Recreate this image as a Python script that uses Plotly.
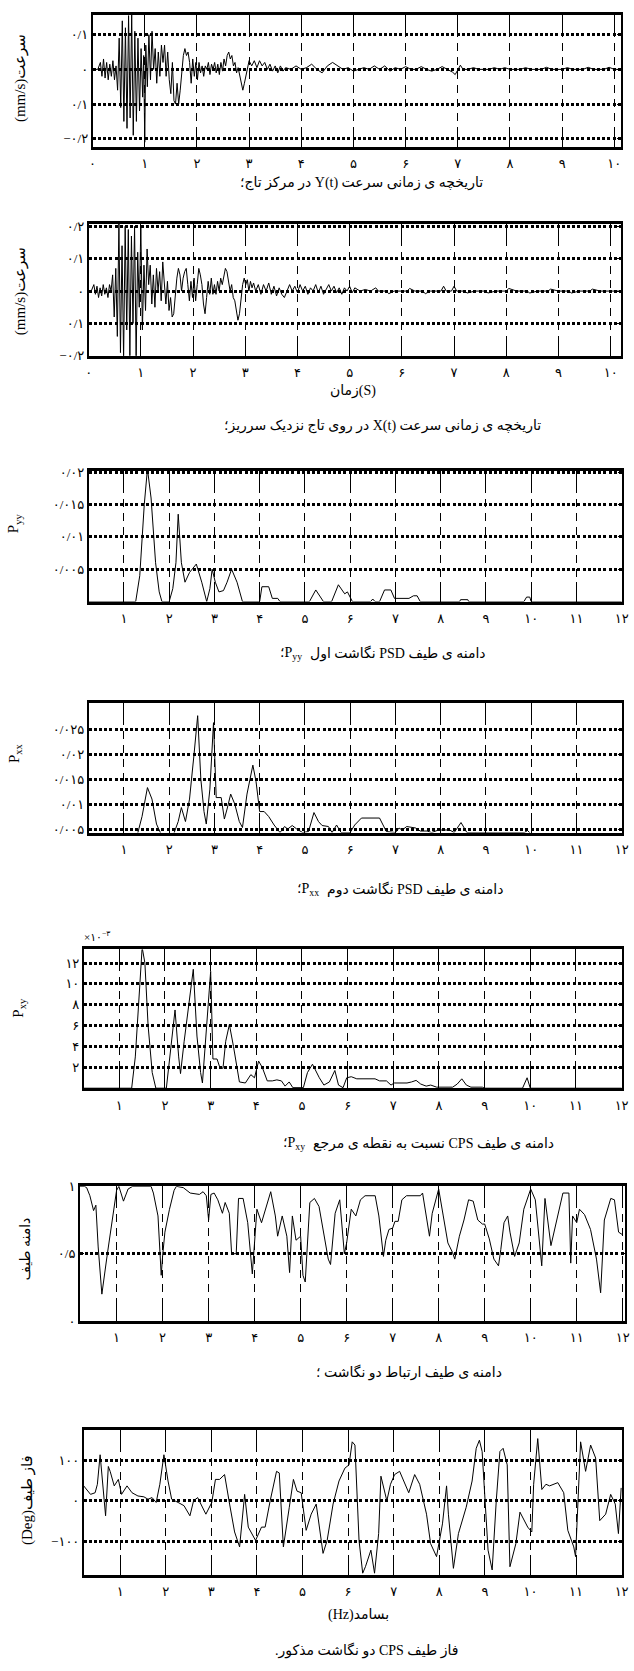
import plotly.graph_objects as go

# ---------------------------------------------------------------- data
# velocity time history Y(t) at crest centre  (time s, velocity mm/s)
vel_y_pts = [
    (0.00, 0.0), (0.05, 0.0), (0.10, 0.0), (0.15, 0.02), (0.18, -0.02), (0.21, 0.03),
    (0.24, -0.025), (0.27, 0.02), (0.30, -0.03), (0.33, 0.015), (0.36, -0.02), (0.39, 0.025),
    (0.42, -0.03), (0.45, 0.01), (0.48, -0.06), (0.51, 0.09), (0.54, -0.11), (0.57, 0.14),
    (0.60, -0.15), (0.63, 0.12), (0.66, -0.17), (0.69, 0.155), (0.72, -0.14), (0.75, 0.16),
    (0.78, -0.19), (0.81, 0.11), (0.84, -0.15), (0.87, 0.09), (0.90, -0.12), (0.93, 0.06),
    (0.96, -0.08), (0.98, 0.04), (1.00, -0.21), (1.02, 0.07), (1.05, -0.05), (1.08, 0.10),
    (1.11, -0.03), (1.14, 0.11), (1.17, 0.0), (1.20, 0.06), (1.23, -0.04), (1.26, 0.05),
    (1.29, -0.02), (1.32, 0.07), (1.35, 0.02), (1.38, 0.07), (1.41, -0.02), (1.44, 0.05),
    (1.47, -0.03), (1.50, -0.07), (1.53, 0.02), (1.56, -0.09), (1.59, -0.10), (1.62, -0.04),
    (1.65, -0.10), (1.68, -0.06), (1.71, 0.0), (1.74, 0.04), (1.77, 0.06), (1.80, 0.04),
    (1.83, 0.05), (1.86, 0.02), (1.89, -0.04), (1.92, 0.03), (1.95, -0.02), (1.98, 0.02),
    (2.01, -0.03), (2.04, 0.02), (2.07, -0.01), (2.10, 0.01), (2.13, -0.02), (2.16, 0.01),
    (2.19, 0.0), (2.22, 0.02), (2.25, -0.015), (2.28, 0.015), (2.31, 0.0), (2.34, 0.02),
    (2.37, -0.01), (2.40, 0.015), (2.43, -0.015), (2.46, 0.02), (2.49, -0.005), (2.52, 0.03),
    (2.55, 0.01), (2.58, 0.04), (2.61, 0.05), (2.64, 0.03), (2.67, 0.04), (2.70, 0.01),
    (2.73, 0.02), (2.76, -0.01), (2.79, 0.005), (2.82, -0.02), (2.85, -0.04), (2.88, -0.06),
    (2.91, -0.04), (2.94, -0.02), (2.97, 0.01), (3.00, 0.025), (3.05, 0.01), (3.10, 0.025),
    (3.15, 0.005), (3.20, 0.025), (3.25, 0.01), (3.30, 0.02), (3.35, 0.0), (3.40, 0.015),
    (3.45, -0.005), (3.50, 0.01), (3.55, -0.01), (3.60, 0.01), (3.65, -0.005), (3.70, 0.005),
    (3.80, 0.0), (3.90, 0.01), (4.00, 0.0), (4.10, 0.005), (4.20, 0.015), (4.30, 0.0),
    (4.40, -0.01), (4.50, 0.01), (4.60, 0.02), (4.70, 0.01), (4.80, 0.0), (4.90, 0.005),
    (5.00, -0.005), (5.10, 0.0), (5.20, 0.005), (5.30, 0.0), (5.40, 0.01), (5.50, 0.0),
    (5.60, 0.01), (5.70, -0.005), (5.80, 0.005), (5.90, 0.0), (6.00, 0.008), (6.10, 0.0),
    (6.20, 0.0), (6.30, 0.008), (6.40, 0.0), (6.50, -0.005), (6.60, 0.0), (6.70, 0.008),
    (6.80, 0.0), (6.90, -0.008), (6.95, -0.015), (7.00, 0.0), (7.05, 0.012), (7.10, 0.0),
    (7.20, 0.0), (7.30, 0.005), (7.40, 0.0), (7.60, 0.0), (7.70, 0.005), (7.80, 0.0),
    (7.90, 0.005), (8.00, 0.0), (8.20, 0.0), (8.30, 0.005), (8.40, 0.0), (8.60, 0.0),
    (8.70, 0.006), (8.80, 0.0), (9.00, 0.0), (9.10, 0.005), (9.20, 0.0), (9.40, 0.0),
    (9.50, 0.006), (9.60, 0.0), (9.80, 0.0), (9.90, 0.006), (10.00, 0.0), (10.13, 0.0),
]

# velocity time history X(t) on crest near spillway  (time s, velocity mm/s)
vel_x_pts = [
    (0.00, 0.0), (0.05, 0.0), (0.10, 0.02), (0.13, -0.01), (0.16, 0.015), (0.19, -0.02),
    (0.22, 0.01), (0.25, -0.015), (0.28, 0.02), (0.31, -0.01), (0.34, 0.01), (0.37, -0.02),
    (0.40, 0.02), (0.43, 0.0), (0.46, 0.05), (0.49, -0.08), (0.52, 0.07), (0.55, -0.14),
    (0.58, 0.21), (0.61, -0.19), (0.64, 0.14), (0.67, -0.21), (0.70, 0.2), (0.73, -0.12),
    (0.76, 0.19), (0.79, -0.2), (0.82, 0.17), (0.85, -0.1), (0.88, 0.2), (0.91, -0.21),
    (0.94, 0.12), (0.97, -0.05), (1.00, 0.2), (1.03, -0.12), (1.06, 0.08), (1.09, -0.06),
    (1.12, 0.13), (1.15, 0.02), (1.18, 0.08), (1.21, -0.04), (1.24, 0.05), (1.27, -0.05),
    (1.30, 0.07), (1.33, 0.0), (1.36, 0.06), (1.39, -0.03), (1.42, 0.09), (1.45, 0.01),
    (1.48, -0.04), (1.51, 0.03), (1.54, -0.06), (1.57, -0.02), (1.60, -0.08), (1.63, -0.07),
    (1.66, 0.0), (1.69, 0.04), (1.72, 0.07), (1.75, 0.05), (1.78, 0.0), (1.81, 0.04),
    (1.84, 0.06), (1.87, 0.07), (1.90, 0.02), (1.93, -0.03), (1.96, 0.03), (1.99, -0.02),
    (2.02, 0.04), (2.05, -0.03), (2.08, 0.02), (2.11, 0.07), (2.14, 0.05), (2.17, 0.02),
    (2.20, -0.04), (2.23, -0.07), (2.26, -0.02), (2.29, 0.03), (2.32, -0.01), (2.35, 0.04),
    (2.38, -0.01), (2.41, 0.02), (2.44, -0.01), (2.47, 0.03), (2.50, 0.0), (2.53, 0.04),
    (2.56, 0.02), (2.59, 0.05), (2.62, 0.07), (2.65, 0.06), (2.68, 0.03), (2.71, 0.0),
    (2.74, 0.02), (2.77, -0.02), (2.80, -0.03), (2.83, -0.06), (2.86, -0.09), (2.89, -0.07),
    (2.92, -0.02), (2.95, 0.02), (2.98, 0.04), (3.01, 0.02), (3.04, 0.035), (3.07, 0.0),
    (3.10, 0.03), (3.13, 0.01), (3.16, 0.025), (3.20, 0.0), (3.25, 0.02), (3.30, -0.01),
    (3.35, 0.02), (3.40, 0.0), (3.45, 0.025), (3.50, -0.01), (3.55, 0.015), (3.60, -0.015),
    (3.65, 0.01), (3.70, -0.01), (3.75, -0.02), (3.80, 0.0), (3.85, 0.02), (3.90, 0.0),
    (3.95, 0.015), (4.00, -0.005), (4.05, 0.02), (4.10, 0.0), (4.15, 0.015), (4.20, -0.01),
    (4.25, 0.01), (4.30, 0.0), (4.35, 0.02), (4.40, -0.005), (4.45, 0.015), (4.50, -0.01),
    (4.55, 0.005), (4.60, 0.02), (4.65, 0.0), (4.70, 0.015), (4.75, -0.005), (4.80, 0.01),
    (4.85, -0.01), (4.90, 0.01), (4.95, 0.0), (5.00, 0.015), (5.05, -0.005), (5.10, 0.01),
    (5.20, 0.0), (5.30, 0.005), (5.40, 0.0), (5.50, 0.01), (5.55, 0.0), (5.70, 0.0),
    (5.75, -0.008), (5.85, 0.0), (6.10, 0.0), (6.15, 0.008), (6.25, 0.0), (6.40, 0.0),
    (6.45, -0.008), (6.55, 0.0), (6.75, 0.0), (6.80, 0.015), (6.85, 0.0), (6.95, 0.0),
    (7.00, 0.015), (7.05, 0.0), (7.20, 0.0), (7.25, -0.006), (7.40, 0.0), (7.60, 0.0),
    (7.65, -0.006), (7.80, 0.0), (8.00, 0.0), (8.05, 0.008), (8.20, 0.0), (8.40, 0.0),
    (8.45, -0.006), (8.60, 0.0), (8.80, 0.0), (8.85, 0.006), (9.00, 0.0), (9.20, 0.0),
    (9.25, -0.006), (9.40, 0.0), (9.60, 0.0), (9.65, 0.006), (9.80, 0.0), (10.20, 0.0),
]

# PSD of record 1, Pyy  (Hz, value)
psd_yy_pts = [
    (0.2, 0), (1.2, 0), (1.26, 0), (1.35, 0.004), (1.45, 0.015), (1.52, 0.0205), (1.6, 0.016),
    (1.7, 0.006), (1.78, 0.0015), (1.84, 0), (2.0, 0), (2.08, 0.002), (2.15, 0.006), (2.2, 0.0135),
    (2.27, 0.006), (2.35, 0.003), (2.45, 0.0045), (2.6, 0.0058), (2.72, 0.003), (2.83, 0),
    (2.9, 0.002), (2.95, 0.005), (3.02, 0.003), (3.1, 0.0015), (3.2, 0.0017), (3.28, 0.003),
    (3.38, 0.005), (3.5, 0.003), (3.62, 0), (4.0, 0), (4.05, 0.0023), (4.2, 0.0023),
    (4.28, 0.0005), (4.4, 0.0005), (4.45, 0), (5.1, 0), (5.24, 0.0018), (5.41, 0), (5.59, 0),
    (5.74, 0.0026), (5.88, 0.0012), (5.94, 0.0015), (6.0, 0.0006), (6.05, 0), (6.45, 0),
    (6.5, 0.0004), (6.55, 0), (6.65, 0), (6.76, 0.0018), (6.9, 0.0018), (6.98, 0.0005),
    (7.3, 0.0005), (7.4, 0.0009), (7.48, 0.0009), (7.55, 0), (8.42, 0), (8.44, 0.0003),
    (8.6, 0.0003), (8.62, 0), (9.84, 0), (9.9, 0.0007), (9.97, 0.0007), (10.0, 0), (12.0, 0),
]

# PSD of record 2, Pxx  (Hz, value)
psd_xx_pts = [
    (0.2, 0.004), (1.3, 0.004), (1.4, 0.0075), (1.52, 0.0133), (1.62, 0.011), (1.72, 0.006),
    (1.82, 0.004), (2.1, 0.004), (2.2, 0.0065), (2.27, 0.0093), (2.36, 0.0065), (2.45, 0.011),
    (2.55, 0.02), (2.63, 0.0277), (2.7, 0.015), (2.77, 0.0085), (2.82, 0.006), (2.9, 0.013),
    (2.98, 0.0263), (3.04, 0.0113), (3.15, 0.0113), (3.22, 0.007), (3.28, 0.009), (3.36, 0.012),
    (3.45, 0.01), (3.55, 0.0065), (3.62, 0.0053), (3.72, 0.012), (3.85, 0.0178), (3.92, 0.0145),
    (4.0, 0.0085), (4.1, 0.0085), (4.2, 0.0075), (4.32, 0.0058), (4.45, 0.0043), (4.55, 0.0055),
    (4.62, 0.005), (4.72, 0.0057), (4.82, 0.005), (4.95, 0.0043), (5.08, 0.0045), (5.2, 0.0083),
    (5.3, 0.0065), (5.38, 0.0057), (5.52, 0.0055), (5.6, 0.0043), (5.7, 0.0058), (5.8, 0.0043),
    (6.0, 0.0043), (6.1, 0.0058), (6.25, 0.0072), (6.65, 0.0072), (6.8, 0.0045), (7.0, 0.0043),
    (7.08, 0.0052), (7.15, 0.0048), (7.25, 0.0055), (7.45, 0.0052), (7.55, 0.0046),
    (7.7, 0.0046), (7.8, 0.0043), (7.95, 0.0048), (8.2, 0.0048), (8.3, 0.0043), (8.45, 0.0063),
    (8.58, 0.0043), (9.85, 0.0043), (9.92, 0.0047), (10.0, 0.004), (12.0, 0.004),
]

# CPS magnitude, Pxy  (Hz, value x 1e-3)
cps_xy_pts = [
    (0.2, 0), (1.27, 0), (1.35, 3), (1.42, 8), (1.5, 13.5), (1.56, 12), (1.63, 6), (1.72, 1.5),
    (1.8, 0), (2.03, 0), (2.12, 3.5), (2.22, 7.5), (2.3, 3), (2.34, 1.4), (2.42, 4.5), (2.52, 8),
    (2.62, 11.4), (2.7, 5), (2.78, 1.5), (2.82, 0.5), (2.9, 5), (3.0, 11.2), (3.05, 2.8),
    (3.14, 2.8), (3.2, 2.0), (3.27, 1.9), (3.33, 4.5), (3.41, 6.1), (3.5, 4.0), (3.57, 2.0),
    (3.63, 0.6), (3.76, 0.5), (3.88, 1.3), (3.96, 1.0), (4.05, 2.6), (4.13, 2.0), (4.24, 0.7),
    (4.35, 0.7), (4.45, 0.8), (4.55, 0.7), (4.63, 0.2), (4.72, 0.6), (4.8, 0.05), (5.03, 0.05),
    (5.12, 1.5), (5.23, 2.3), (5.38, 1.0), (5.48, 0.3), (5.6, 0.6), (5.72, 1.7), (5.8, 0.3),
    (5.9, 0.05), (5.98, 1.0), (6.08, 1.1), (6.2, 0.9), (6.6, 0.9), (6.7, 0.7), (6.85, 0.7),
    (6.95, 0.3), (7.02, 0.5), (7.3, 0.5), (7.4, 0.6), (7.5, 0.75), (7.6, 0.4), (7.72, 0.2),
    (7.82, 0.3), (7.95, 0.1), (8.3, 0.1), (8.4, 0.4), (8.5, 0.9), (8.6, 0.3), (8.7, 0.1),
    (8.95, 0.1), (9.0, 0), (9.83, 0), (9.93, 1.0), (10.0, 0), (12.0, 0),
]

# coherence of the two records  (Hz, value)
coh_pts = [
    (0.2, 1.0), (0.3, 1.0), (0.35, 0.99), (0.42, 0.93), (0.5, 0.82), (0.55, 0.86), (0.6, 0.55),
    (0.68, 0.2), (0.8, 0.5), (0.9, 0.75), (1.0, 0.97), (1.05, 1.0), (1.15, 0.89), (1.25, 0.98),
    (1.35, 1.0), (1.75, 1.0), (1.8, 0.95), (1.9, 0.78), (1.97, 0.34), (2.0, 0.48), (2.05, 0.66),
    (2.15, 0.83), (2.25, 0.97), (2.3, 1.0), (2.45, 0.99), (2.6, 0.95), (2.8, 0.94), (2.88, 0.96),
    (2.95, 0.93), (3.0, 0.75), (3.05, 0.94), (3.12, 0.95), (3.2, 0.9), (3.3, 0.8), (3.36, 0.88),
    (3.45, 0.8), (3.5, 0.5), (3.6, 0.5), (3.65, 0.91), (3.75, 0.91), (3.85, 0.73), (3.95, 0.35),
    (4.0, 0.6), (4.05, 0.83), (4.15, 0.73), (4.25, 0.85), (4.35, 0.96), (4.45, 0.78), (4.5, 0.63),
    (4.6, 0.78), (4.7, 0.63), (4.76, 0.36), (4.82, 0.78), (4.9, 0.6), (5.0, 0.63), (5.05, 0.34),
    (5.1, 0.29), (5.2, 0.88), (5.3, 0.91), (5.4, 0.85), (5.5, 0.66), (5.6, 0.46), (5.65, 0.42),
    (5.75, 0.8), (5.85, 0.9), (5.95, 0.5), (6.0, 0.58), (6.1, 0.83), (6.2, 0.78), (6.3, 0.9),
    (6.4, 0.93), (6.62, 0.93), (6.7, 0.78), (6.8, 0.48), (6.85, 0.6), (6.92, 0.68), (7.0, 0.69),
    (7.05, 0.74), (7.12, 0.74), (7.2, 0.9), (7.3, 0.93), (7.6, 0.93), (7.65, 0.95), (7.75, 0.73),
    (7.8, 0.63), (7.86, 0.8), (8.0, 0.98), (8.1, 0.78), (8.2, 0.58), (8.3, 0.51), (8.35, 0.46),
    (8.45, 0.63), (8.55, 0.75), (8.65, 0.9), (8.75, 0.89), (8.85, 0.75), (8.95, 0.72), (9.0, 0.72),
    (9.1, 0.61), (9.2, 0.46), (9.3, 0.41), (9.35, 0.53), (9.42, 0.73), (9.5, 0.78), (9.55, 0.66),
    (9.65, 0.48), (9.75, 0.58), (9.85, 0.83), (9.95, 0.94), (10.0, 0.98), (10.1, 0.9),
    (10.24, 0.41), (10.31, 0.91), (10.44, 0.56), (10.7, 0.95), (10.83, 0.95), (10.87, 0.43),
    (10.91, 0.78), (11.0, 0.73), (11.06, 0.83), (11.17, 0.79), (11.3, 0.68), (11.43, 0.46),
    (11.52, 0.21), (11.6, 0.75), (11.74, 0.91), (11.82, 0.9), (11.91, 0.66), (12.0, 0.64),
]

# CPS phase  (Hz, degrees)
phase_pts = [
    (0.2, 37), (0.26, 28), (0.35, 16), (0.45, 20), (0.5, 41), (0.56, 114), (0.61, 49), (0.68, -37),
    (0.74, 85), (0.78, 73), (0.87, 37), (0.96, 53), (1.03, 16), (1.15, 37), (1.26, 20), (1.39, 12),
    (1.52, 10), (1.61, 4), (1.7, 8), (1.79, -4), (1.87, 41), (1.96, 114), (2.05, 49), (2.13, 4),
    (2.27, -4), (2.4, -12), (2.53, -37), (2.61, 0), (2.7, 8), (2.79, -12), (2.88, -33), (3.01, -4),
    (3.09, 53), (3.18, 53), (3.29, 65), (3.4, -8), (3.51, -77), (3.62, -114), (3.73, 16),
    (3.81, -65), (3.97, -98), (4.1, -65), (4.18, -65), (4.29, 0), (4.43, 73), (4.49, 69),
    (4.58, -114), (4.71, -16), (4.8, 53), (4.88, 24), (4.97, 20), (5.08, -73), (5.19, -33),
    (5.3, -8), (5.45, -130), (5.54, -98), (5.67, -8), (5.8, 49), (5.93, 81), (6.02, 89),
    (6.09, 146), (6.15, 138), (6.24, -98), (6.32, -179), (6.38, -163), (6.5, -122), (6.58, -179),
    (6.67, -81), (6.72, 61), (6.85, 0), (6.93, 41), (7.02, 65), (7.13, 73), (7.33, 20), (7.46, 65),
    (7.57, 41), (7.72, -33), (7.81, -106), (7.94, -138), (8.07, -57), (8.16, 37), (8.2, -33),
    (8.31, -167), (8.42, -81), (8.59, -16), (8.72, 49), (8.81, 130), (8.88, 150), (8.94, 122),
    (9.07, -122), (9.16, -171), (9.25, 0), (9.33, 122), (9.4, 130), (9.49, 89), (9.55, -163),
    (9.68, -106), (9.77, -28), (9.94, -65), (10.03, -77), (10.07, 41), (10.16, 154), (10.25, 28),
    (10.34, 41), (10.42, 37), (10.6, 45), (10.73, 20), (10.82, -73), (10.95, -114), (10.99, -138),
    (11.1, 146), (11.21, 73), (11.32, 138), (11.43, 106), (11.52, -49), (11.65, -33), (11.76, 16),
    (11.86, -8), (11.93, -81), (11.99, 32),
]

# tick values
time_ticks = list(range(0, 11))
freq_ticks = list(range(1, 13))
vel1_ticks = [0.1, 0, -0.1, -0.2]
vel1_labels = ["0/1", "0", "0/1", "-0/2"]
vel2_ticks = [0.2, 0.1, 0, -0.1, -0.2]
vel2_labels = ["0/2", "0/1", "0", "0/1", "-0/2"]
pyy_ticks = [0.005, 0.01, 0.015, 0.02]
pyy_labels = ["0/005", "0/01", "0/015", "0/02"]
pxx_ticks = [0.005, 0.01, 0.015, 0.02, 0.025]
pxx_labels = ["0/005", "0/01", "0/015", "0/02", "0/025"]
pxy_ticks = [2, 4, 6, 8, 10, 12]
coh_ticks = [0, 0.5, 1]
coh_labels = ["0", "0/5", "1"]
phase_ticks = [-100, 0, 100]

# ---------------------------------------------------------------- helpers
FA = str.maketrans("0123456789-", "۰۱۲۳۴۵۶۷۸۹−")


def fa(s):
    return str(s).translate(FA)


def rtl(s):
    return "\u202b" + s + "\u202c"


W, H = 634, 1671
FONT = "Liberation Serif, DejaVu Sans, serif"
TICKFONT = dict(family=FONT, size=13, color="black")

# panel frames in page pixels: (left, top, right, bottom)
panels = [
    dict(pts=vel_y_pts, box=(91, 8, 628, 141), xr=[0, 10.13], yr=[-0.223, 0.157],
         xt=time_ticks, yt=vel1_ticks, ytt=vel1_labels),
    dict(pts=vel_x_pts, box=(87, 219, 628, 352), xr=[0, 10.2], yr=[-0.2, 0.207],
         xt=time_ticks, yt=vel2_ticks, ytt=vel2_labels),
    dict(pts=psd_yy_pts, box=(87, 468, 629, 600), xr=[0.22, 12.01], yr=[0, 0.0202],
         xt=freq_ticks, yt=pyy_ticks, ytt=pyy_labels),
    dict(pts=psd_xx_pts, box=(87, 702, 629, 833), xr=[0.22, 12.01], yr=[0.0043, 0.0303],
         xt=freq_ticks, yt=pxx_ticks, ytt=pxx_labels),
    dict(pts=cps_xy_pts, box=(82, 951, 629, 1091), xr=[0.22, 12.01], yr=[0, 13.3],
         xt=freq_ticks, yt=pxy_ticks, ytt=[str(v) for v in pxy_ticks]),
    dict(pts=coh_pts, box=(78, 1190, 632, 1326), xr=[0.2, 12.05], yr=[0, 1],
         xt=freq_ticks, yt=coh_ticks, ytt=coh_labels),
    dict(pts=phase_pts, box=(82, 1436, 629, 1582), xr=[0.2, 12.01], yr=[-183, 175],
         xt=freq_ticks, yt=phase_ticks, ytt=[str(v) for v in phase_ticks]),
]

fig = go.Figure()
layout = {}
for i, p in enumerate(panels, start=1):
    sx = "" if i == 1 else str(i)
    l, t, r, b = p["box"]
    xs, ys = zip(*p["pts"])
    fig.add_trace(go.Scatter(x=xs, y=ys, mode="lines", xaxis="x" + sx, yaxis="y" + sx,
                             line=dict(color="black", width=1), hoverinfo="skip"))
    layout["xaxis" + sx] = dict(
        domain=[l / W, r / W], range=p["xr"], anchor="y" + sx,
        showline=True, mirror="allticks", linecolor="black", linewidth=2.5,
        ticks="inside", ticklen=20, tickwidth=1.2, tickcolor="black",
        tickvals=p["xt"], ticktext=[fa(v) for v in p["xt"]], tickfont=TICKFONT,
        ticklabelstandoff=3, ticklabeloverflow="allow",
        showgrid=True, gridcolor="black", gridwidth=1, griddash="8px,6px",
        zeroline=False,
    )
    layout["yaxis" + sx] = dict(
        domain=[1 - b / H, 1 - t / H], range=p["yr"], anchor="x" + sx,
        showline=True, mirror="allticks", linecolor="black", linewidth=1.5,
        ticks="inside", ticklen=4, tickwidth=1, tickcolor="black",
        tickvals=p["yt"], ticktext=[fa(v) for v in p["ytt"]], tickfont=TICKFONT,
        showgrid=True, gridcolor="black", gridwidth=2.5, griddash="3px,2.2px",
        zeroline=False,
    )

ann = []


def text(s, x, y, size=14, angle=0, anchor="center"):
    ann.append(dict(text=s, x=x / W, y=1 - y / H, xref="paper", yref="paper",
                    xanchor=anchor, yanchor="middle", showarrow=False, textangle=angle,
                    font=dict(family=FONT, size=size, color="black")))


# axis titles
text("(mm/s)سرعت", 18, 72, 15, -90)
text("(mm/s)سرعت", 18, 287, 15, -90)
text("P<sub>yy</sub>", 12, 521, 15, -90)
text("P<sub>xx</sub>", 12, 753, 15, -90)
text("P<sub>xy</sub>", 16, 1010, 15, -90)
text("دامنه طیف", 23, 1253, 14, -90)
text("(Deg)فاز طیف", 25, 1507, 15, -90)
text("×" + fa(10) + "<sup>" + fa(-3) + "</sup>", 96, 937, 11)
text("زمان(S)", 356, 387, 14)
text("(Hz)بسامد", 361, 1623, 14)

# captions; the spectrum symbol sits at the left end of the line
text(rtl("تاریخچه ی زمانی سرعت Y(t) در مرکز تاج؛"), 364, 178, 14)
text(rtl("تاریخچه ی زمانی سرعت X(t) در روی تاج نزدیک سرریز؛"), 386, 423, 14)
text(rtl("دامنه ی طیف PSD نگاشت اول"), 310, 652, 14, anchor="left")
text("؛P<sub>yy</sub>", 306, 652, 14, anchor="right")
text(rtl("دامنه ی طیف PSD نگاشت دوم"), 327, 890, 14, anchor="left")
text("؛P<sub>xx</sub>", 323, 890, 14, anchor="right")
text(rtl("دامنه ی طیف CPS نسبت به نقطه ی مرجع"), 313, 1147, 14, anchor="left")
text("؛P<sub>xy</sub>", 309, 1147, 14, anchor="right")
text(rtl("دامنه ی طیف ارتباط دو نگاشت ؛"), 413, 1378, 14)
text(rtl("فاز طیف CPS دو نگاشت مذکور."), 369, 1658, 14)

fig.update_layout(
    width=W, height=H, margin=dict(l=0, r=0, t=0, b=0),
    paper_bgcolor="white", plot_bgcolor="white", showlegend=False,
    annotations=ann, **layout,
)

fig.write_html("out.html")
